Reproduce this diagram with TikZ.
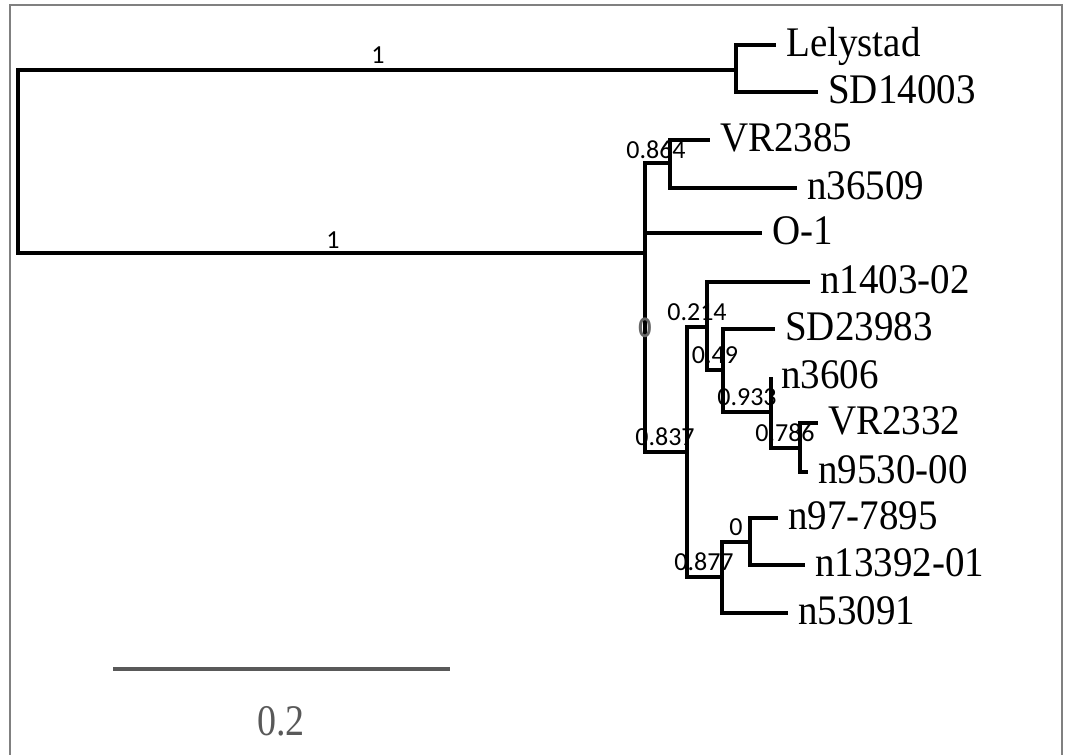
\documentclass[tikz,border=0pt]{standalone}
\usepackage{fontspec}
\setmainfont{Liberation Serif}
\newfontfamily\supfont{Carlito}
\begin{document}
\begin{tikzpicture}[x=1pt,y=-1pt,
  br/.style={line width=4pt, line join=miter},
  leaf/.style={anchor=base west, inner sep=0pt, xshift=10pt, yshift=-11pt, yscale=1.08, font=\fontsize{39}{44}\selectfont},
  sup/.style={inner sep=0pt, font=\supfont\fontsize{26}{28}\selectfont},
  frame/.style={draw=gray, line width=1.3pt}]
\useasboundingbox (0,0) rectangle (1066,755);
% frame
\coordinate (f1) at (10,760);
\coordinate (f2) at (10,5);
\coordinate (f3) at (1062,5);
\coordinate (f4) at (1062,760);
\draw[frame] (f1) -- (f2) -- (f3) -- (f4);
% internal nodes
\coordinate (root) at (18,161.5);
\coordinate (nA) at (736,70);
\coordinate (nB) at (645,253);
\coordinate (nC) at (670,163);
\coordinate (nD) at (687,452);
\coordinate (nE) at (707,327);
\coordinate (nG) at (723,370);
\coordinate (nH) at (771,412);
\coordinate (nI) at (800,448);
\coordinate (nF) at (722,577);
\coordinate (nJ) at (750,542);
% tips
\coordinate (tLely) at (776,45);
\coordinate (tSD14) at (818,92);
\coordinate (tVR85) at (710,140);
\coordinate (tn365) at (797,188);
\coordinate (tO1) at (762,233);
\coordinate (tn1403) at (810,282);
\coordinate (tSD23) at (775,329);
\coordinate (tn3606) at (771,377);
\coordinate (tVR32) at (818,423);
\coordinate (tn9530) at (808,472);
\coordinate (tn977) at (778,518);
\coordinate (tn1339) at (805,565);
\coordinate (tn5309) at (788,613);
% branches
\draw[br] (root) |- (nA);
\draw[br] (root) |- (nB);
\draw[br] (nA) |- (tLely);
\draw[br] (nA) |- (tSD14);
\draw[br] (nB) |- (nC);
\draw[br] (nB) |- (tO1);
\draw[br] (nB) |- (nD);
\draw[br] (nC) |- (tVR85);
\draw[br] (nC) |- (tn365);
\draw[br] (nD) |- (nE);
\draw[br] (nD) |- (nF);
\draw[br] (nE) |- (tn1403);
\draw[br] (nE) |- (nG);
\draw[br] (nG) |- (tSD23);
\draw[br] (nG) |- (nH);
\draw[br] (nH) |- (tn3606);
\draw[br] (nH) |- (nI);
\draw[br] (nI) |- (tVR32);
\draw[br] (nI) |- (tn9530);
\draw[br] (nF) |- (nJ);
\draw[br] (nF) |- (tn5309);
\draw[br] (nJ) |- (tn977);
\draw[br] (nJ) |- (tn1339);
% leaf labels
\node[leaf] (lLely) at (tLely) {Lelystad};
\node[leaf] (lSD14) at (tSD14) {SD14003};
\node[leaf] (lVR85) at (tVR85) {VR2385};
\node[leaf] (ln365) at (tn365) {n36509};
\node[leaf] (lO1) at (tO1) {O-1};
\node[leaf] (ln1403) at (tn1403) {n1403-02};
\node[leaf] (lSD23) at (tSD23) {SD23983};
\node[leaf] (ln3606) at (tn3606) {n3606};
\node[leaf] (lVR32) at (tVR32) {VR2332};
\node[leaf] (ln9530) at (tn9530) {n9530-00};
\node[leaf] (ln977) at (tn977) {n97-7895};
\node[leaf] (ln1339) at (tn1339) {n13392-01};
\node[leaf] (ln5309) at (tn5309) {n53091};
% support values
\node[sup] (s1a) at (378,55) {1};
\node[sup] (s1b) at (333,240) {1};
\node[sup] (s864) at (656,150) {0.864};
\node[sup, text=black!60, yscale=1.15] (s0B) at (645,328) {\bfseries 0};
\node[sup] (s214) at (697,312) {0.214};
\node[sup] (s49) at (715,355) {0.49};
\node[sup] (s933) at (747,397) {0.933};
\node[sup] (s786) at (785,433) {0.786};
\node[sup] (s837) at (665,437) {0.837};
\node[sup] (s0J) at (736,527) {0};
\node[sup] (s877) at (704,562) {0.877};
% scale bar
\coordinate (sb1) at (113,669);
\coordinate (sb2) at (450,669);
\draw[line width=4pt, draw=black!65] (sb1) -- (sb2);
\node[inner sep=0pt, anchor=base, text=black!65, yscale=1.15, font=\fontsize{38}{42}\selectfont] (sbl) at (281,735) {0.2};
\end{tikzpicture}
\end{document}
